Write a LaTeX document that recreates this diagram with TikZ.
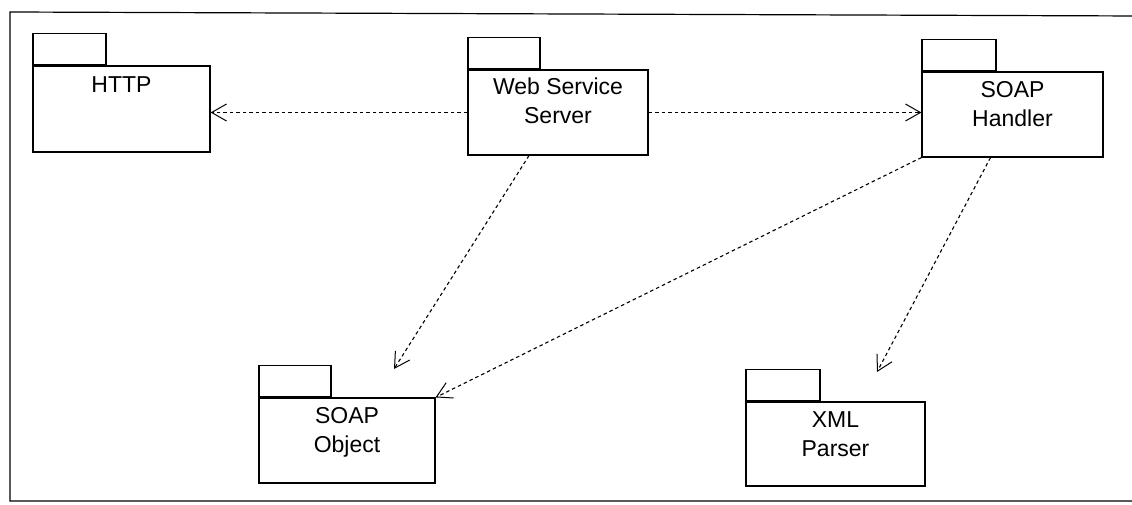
\documentclass[tikz,border=0pt]{standalone}
\usepackage{fontspec}
\setmainfont{Liberation Sans}
\usetikzlibrary{arrows.meta}
\begin{document}
\begin{tikzpicture}[x=1pt,y=-1pt,
  pkgbody/.style={draw, line width=1.1pt, inner sep=0pt, minimum height=85pt},
  pkgtab/.style={draw, line width=1.1pt, inner sep=0pt, minimum width=73pt, minimum height=31pt, anchor=south west},
  pkglabel/.style={anchor=north, inner sep=0pt, align=center, font=\fontsize{23}{29}\selectfont},
  dep/.style={line width=1.1pt, dash pattern=on 3.5pt off 3pt, -{Straight Barb[length=15pt,width=17pt,line width=1pt]}},
  frameline/.style={line width=1.2pt}
]
\useasboundingbox (0,0) rectangle (1132,505);
% frame
\coordinate (ftl) at (10,12);
\coordinate (ftr) at (1140,16);
\coordinate (fbl) at (10,501);
\coordinate (fbr) at (1140,501);
\draw[frameline] (ftr) -- (ftl) -- (fbl) -- (fbr);

% packages
\node[pkgbody, minimum width=177pt, minimum height=86pt] (http) at (121.5,109) {};
\node[pkgtab] (httptab) at (http.north west) {};
\node[pkglabel] (httpL) at ([yshift=-11]http.north) {HTTP};

\node[pkgbody, minimum width=180pt] (wss) at (558,112.5) {};
\node[pkgtab, minimum width=72pt] (wsstab) at (wss.north west) {};
\node[pkglabel] (wssL) at ([yshift=-8]wss.north) {Web Service\\Server};

\node[pkgbody, minimum width=181pt] (sh) at (1012.5,114.5) {};
\node[pkgtab, minimum width=74pt] (shtab) at (sh.north west) {};
\node[pkglabel] (shL) at ([yshift=-10]sh.north) {SOAP\\Handler};

\node[pkgbody, minimum width=176pt] (so) at (347,440.5) {};
\node[pkgtab, minimum width=72pt] (sotab) at (so.north west) {};
\node[pkglabel] (soL) at ([yshift=-10]so.north) {SOAP\\Object};

\node[pkgbody, minimum width=179pt, minimum height=84pt] (xml) at (835.5,444) {};
\node[pkgtab, minimum width=74pt] (xmltab) at (xml.north west) {};
\node[pkglabel] (xmlL) at ([yshift=-10]xml.north) {XML\\Parser};

% free ends
\coordinate (soTip) at (394,369);
\coordinate (xmlTip) at (877,372);

% dependencies
\draw[dep] (wss.west) -- (http.east |- wss.west);
\draw[dep] (wss.east) -- (sh.west |- wss.east);
\draw[dep] ([xshift=-29]wss.south) -- (soTip);
\draw[dep] (sh.south west) -- (so.north east);
\draw[dep] ([xshift=-22]sh.south) -- (xmlTip);
\end{tikzpicture}
\end{document}
